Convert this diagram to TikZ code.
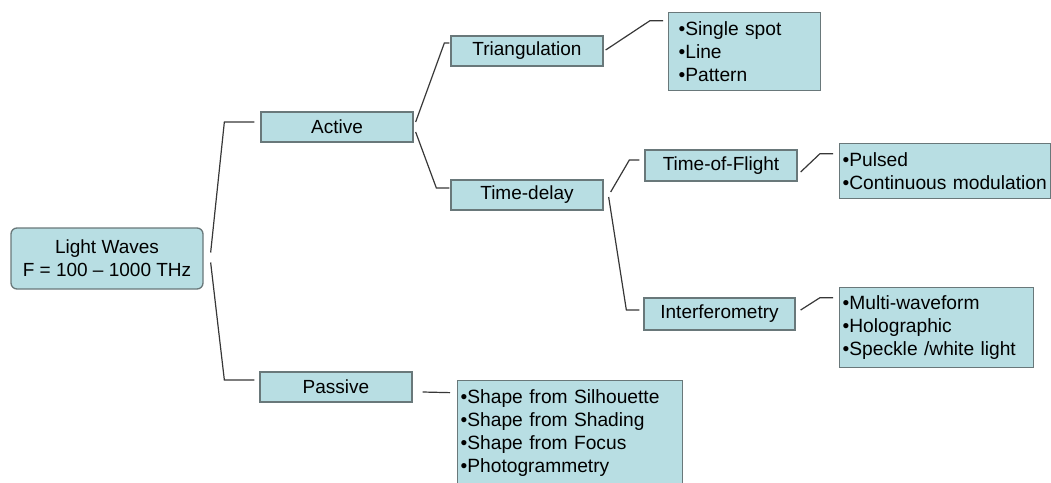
\documentclass[tikz,border=0pt]{standalone}
\usepackage{fontspec}
\setmainfont{Liberation Sans}
\definecolor{boxfill}{RGB}{184,222,227}
\definecolor{boxline}{RGB}{105,120,122}
\definecolor{linkgray}{RGB}{55,55,55}
\tikzset{
  item/.style = {draw = boxline, line width = 1.3pt, fill = boxfill, minimum width = 152pt, minimum height = 30pt, inner sep = 0pt, font = \fontsize{19}{23}\selectfont},
  list/.style = {item, anchor = north west, align = left, inner xsep = 3pt, font = \fontsize{19.2}{23}\selectfont},
  link/.style = {draw = linkgray, line width = 1.2pt}
}
\begin{document}
\begin{tikzpicture}[x = 1pt, y = -1pt]
\useasboundingbox (0,0) rectangle (1051,482);
\node[item, rounded corners = 6pt, minimum width = 192pt, minimum height = 61pt, align = center] (light) at (107,258.5) {Light Waves\\F = 100 -- 1000 THz};
\node[item] (active) at (337,127) {Active};
\node[item] (passive) at (336,387) {Passive};
\node[item] (tri) at (527,51) {Triangulation};
\node[item] (delay) at (527,195) {Time-delay};
\node[item, minimum height = 31pt] (tof) at (721,165.5) {Time-of-Flight};
\node[item, minimum width = 151pt, minimum height = 32pt] (interf) at (719.5,314) {Interferometry};
\node[list, inner xsep = 10pt, text width = 132pt, minimum width = 152pt, minimum height = 78pt] (trilist) at (668,12) {•Single spot\\•Line\\•Pattern};
\node[list, text width = 205pt, minimum width = 211pt, minimum height = 55pt] (toflist) at (839,143) {•Pulsed\\•Continuous modulation};
\node[list, text width = 188pt, minimum width = 194pt, minimum height = 80pt] (interflist) at (839,287) {•Multi-waveform\\•Holographic\\•Speckle /white light};
\node[list, text width = 219pt, minimum width = 225pt, minimum height = 104pt] (paslist) at (457,380) {•Shape from Silhouette\\•Shape from Shading\\•Shape from Focus\\•Photogrammetry};
\draw[link] ([shift = {(7,-6)}]light.east) -- ([shift = {(-36,-5)}]active.west) -- ([shift = {(-6,-5)}]active.west);
\draw[link] ([shift = {(7,4)}]light.east) -- ([shift = {(-35,-7)}]passive.west) -- ([shift = {(-5,-7)}]passive.west);
\draw[link] ([shift = {(2,-5)}]active.east) -- ([shift = {(-6,-8)}]tri.west) -- ([shift = {(-1,-8)}]tri.west);
\draw[link] ([shift = {(2,5)}]active.east) -- ([shift = {(-14,-7)}]delay.west) -- ([shift = {(-1,-7)}]delay.west);
\draw[link] ([shift = {(2,-1)}]tri.east) -- ([shift = {(-18,-31)}]trilist.west) -- ([shift = {(-5,-31)}]trilist.west);
\draw[link] ([shift = {(7,-3)}]delay.east) -- ([shift = {(-15,-5.5)}]tof.west) -- ([shift = {(-5,-5.5)}]tof.west);
\draw[link] ([shift = {(5,2)}]delay.east) -- ([shift = {(-17,-4)}]interf.west) -- ([shift = {(-4,-4)}]interf.west);
\draw[link] ([shift = {(3,6.5)}]tof.east) -- ([shift = {(-19,-17.5)}]toflist.west) -- ([shift = {(-6,-17.5)}]toflist.west);
\draw[link] ([shift = {(5,-4)}]interf.east) -- ([shift = {(-19,-30)}]interflist.west) -- ([shift = {(-6,-30)}]interflist.west);
\draw[link] ([shift = {(10,5)}]passive.east) -- ([shift = {(-7,-40)}]paslist.west);
\end{tikzpicture}
\end{document}
